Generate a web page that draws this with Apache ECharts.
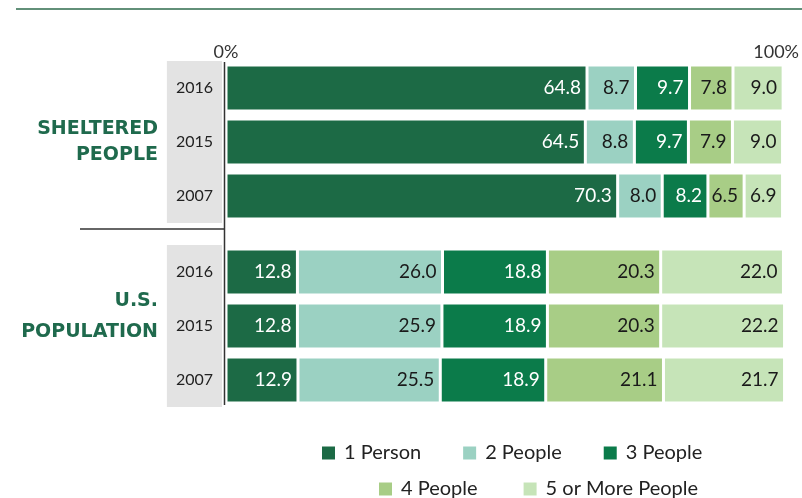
<!DOCTYPE html>
<html><head><meta charset="utf-8">
<script src="https://cdn.jsdelivr.net/npm/echarts@6/dist/echarts.min.js"></script>
<style>html,body{margin:0;padding:0;background:#fff}#c{width:802px;height:498px}</style>
</head><body><div id="c"></div>
<script>
const years = ['2016', '2015', '2007'];
const seriesNames = ['1 Person', '2 People', '3 People', '4 People', '5 or More People'];
const sheltered1 = [64.8, 64.5, 70.3];
const sheltered2 = [8.7, 8.8, 8.0];
const sheltered3 = [9.7, 9.7, 8.2];
const sheltered4 = [7.8, 7.9, 6.5];
const sheltered5 = [9.0, 9.0, 6.9];
const us1 = [12.8, 12.8, 12.9];
const us2 = [26.0, 25.9, 25.5];
const us3 = [18.8, 18.9, 18.9];
const us4 = [20.3, 20.3, 21.1];
const us5 = [22.0, 22.2, 21.7];
const axisTicks = [0, 100];
const groupLabels = [['SHELTERED', 'PEOPLE'], ['U.S.', 'POPULATION']];

const colors = ['#1c6a45', '#9bd1c2', '#0b7b4a', '#a8cd86', '#c6e4b8'];
const labelColors = ['#ffffff', '#1a1a1a', '#ffffff', '#1a1a1a', '#1a1a1a'];
const FONT = 'Lato, "Open Sans", sans-serif';

const chart = echarts.init(document.getElementById('c'));

function makeSeries(name, idx, data, axisIdx) {
  return {
    name: name, type: 'bar', stack: 'g' + axisIdx,
    xAxisIndex: axisIdx, yAxisIndex: axisIdx,
    data: data, barWidth: 46,
    itemStyle: { color: colors[idx], borderColor: '#fff', borderWidth: 1.5 },
    label: {
      show: true, position: 'insideRight', distance: 6,
      color: labelColors[idx], fontSize: 19, fontFamily: FONT,
      formatter: p => p.value.toFixed(1)
    },
    emphasis: { disabled: true }
  };
}

const shelteredSets = [sheltered1, sheltered2, sheltered3, sheltered4, sheltered5];
const usSets = [us1, us2, us3, us4, us5];
const series = [];
seriesNames.forEach((n, i) => series.push(makeSeries(n, i, shelteredSets[i], 0)));
seriesNames.forEach((n, i) => series.push(makeSeries(n, i, usSets[i], 1)));

const yAxisCommon = {
  type: 'category', data: years, inverse: true,
  axisLine: { show: false }, axisTick: { show: false },
  axisLabel: {
    color: '#222', fontSize: 16, fontFamily: FONT, margin: 4,
    backgroundColor: '#e3e3e3', lineHeight: 18, padding: [18, 9, 18, 9]
  }
};
const xAxisCommon = {
  type: 'value', min: 0, max: 100, interval: 100,
  splitLine: { show: false }, axisLine: { show: false }, axisTick: { show: false }
};

const legendText = { fontSize: 20, color: '#222', fontFamily: FONT, padding: [0, 0, 0, 3] };

const groupText = [];
const groupY = [[129, 155], [301, 332]];
groupLabels.forEach((lines, g) => lines.forEach((t, k) => groupText.push({
  type: 'text', x: 158, y: groupY[g][k],
  style: { text: t, align: 'right', verticalAlign: 'middle', textAlign: 'right', textVerticalAlign: 'middle',
    fill: '#1f6a4d', font: 'bold 19px "DejaVu Sans", sans-serif' }
})));

chart.setOption({
  animation: false,
  grid: [
    { left: 226, right: 18, top: 61, height: 162 },
    { left: 226, right: 18, top: 245, height: 162 }
  ],
  xAxis: [
    Object.assign({}, xAxisCommon, { gridIndex: 0, position: 'top',
      axisLabel: { show: true, color: '#333', fontSize: 18, fontFamily: FONT, margin: 0,
        rich: { r: { fontSize: 18, fontFamily: FONT, color: '#333', padding: [0, 14, 0, 0] } },
        formatter: v => axisTicks.includes(v) ? (v === 100 ? '{r|' + v + '%}' : v + '%') : '' } }),
    Object.assign({}, xAxisCommon, { gridIndex: 1, axisLabel: { show: false } })
  ],
  yAxis: [
    Object.assign({}, yAxisCommon, { gridIndex: 0 }),
    Object.assign({}, yAxisCommon, { gridIndex: 1 })
  ],
  legend: [
    { data: seriesNames.slice(0, 3), top: 443, left: 320, padding: 0, itemWidth: 15, itemHeight: 15, itemGap: 40,
      icon: 'rect', textStyle: legendText, selectedMode: false },
    { data: seriesNames.slice(3), top: 479, left: 377, padding: 0, itemWidth: 15, itemHeight: 15, itemGap: 44,
      icon: 'rect', textStyle: legendText, selectedMode: false }
  ],
  graphic: [
    { type: 'line', shape: { x1: 16, y1: 9, x2: 802, y2: 9 }, style: { stroke: '#2e6b4c', lineWidth: 1.5 } },
    { type: 'line', shape: { x1: 224.5, y1: 62, x2: 224.5, y2: 405 }, style: { stroke: '#333', lineWidth: 1.5 }, z: -1 },
    { type: 'line', shape: { x1: 80, y1: 229, x2: 224, y2: 229 }, style: { stroke: '#333', lineWidth: 1.5 } }
  ].concat(groupText),
  series: series
});
</script></body></html>
